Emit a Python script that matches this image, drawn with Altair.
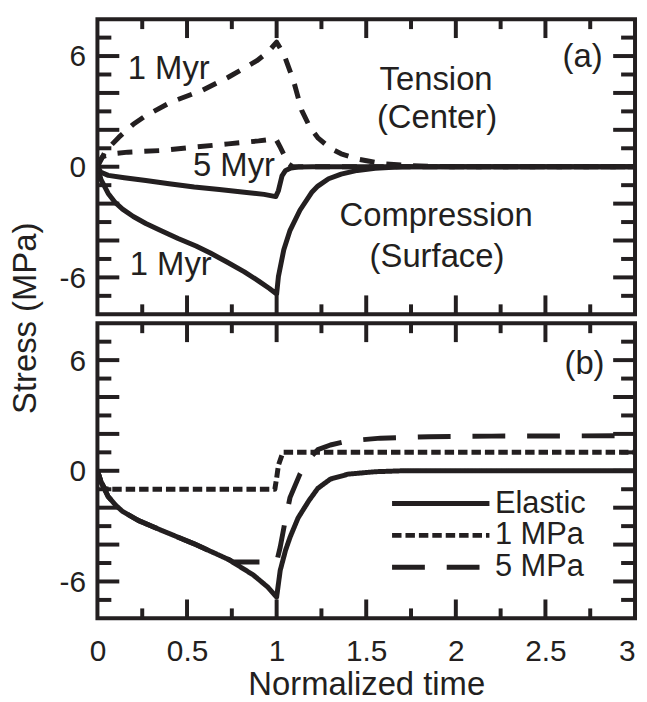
import altair as alt
import pandas as pd

INK = "#231f20"
FONT = "Liberation Sans"

X_DOMAIN = [0, 3]
Y_DOMAIN = [-8, 8]
W, H = 541, 297

# ---------------- Panel (a) ----------------
a_solid_1myr_x = [0, 0.02, 0.06, 0.1, 0.14, 0.2, 0.27, 0.35, 0.45, 0.55, 0.63, 0.72, 0.82, 0.9, 0.96, 1.0,
                  1.01, 1.04, 1.075, 1.13, 1.195, 1.23, 1.29, 1.36, 1.45, 1.55, 1.7, 2.0, 3.0]
a_solid_1myr_y = [0, -0.7, -1.45, -1.95, -2.3, -2.7, -3.08, -3.45, -3.89, -4.3, -4.68, -5.15, -5.7, -6.2, -6.6, -6.9,
                  -5.95, -4.5, -3.45, -2.36, -1.4, -1.05, -0.65, -0.4, -0.2, -0.08, 0, 0, 0]

a_solid_5myr_x = [0, 0.02, 0.06, 0.15, 0.27, 0.4, 0.54, 0.68, 0.82, 0.93, 0.995, 1.01, 1.03, 1.05, 1.08, 1.12, 1.2, 3.0]
a_solid_5myr_y = [0, -0.3, -0.47, -0.6, -0.75, -0.92, -1.1, -1.24, -1.38, -1.5, -1.62, -1.3, -0.5, -0.2, -0.07, -0.02, 0, 0]

a_dash_1myr_x = [0, 0.04, 0.08, 0.12, 0.2, 0.27, 0.41, 0.58, 0.73, 0.89, 0.95, 1.0,
                 1.04, 1.094, 1.14, 1.186, 1.232, 1.3, 1.36, 1.45, 1.51, 1.6, 1.75, 2.0, 3.0]
a_dash_1myr_y = [0, 0.75, 1.2, 1.6, 2.3, 2.77, 3.5, 4.12, 4.85, 5.75, 6.2, 6.75,
                 6.1, 4.67, 3.05, 2.14, 1.55, 1.0, 0.7, 0.42, 0.31, 0.16, 0.05, 0, 0]

a_dash_5myr_x = [0, 0.01, 0.03, 0.08, 0.17, 0.36, 0.54, 0.73, 0.9, 0.995, 1.02, 1.048, 1.066, 1.09, 3.0]
a_dash_5myr_y = [0, 0.3, 0.55, 0.7, 0.79, 0.88, 1.06, 1.24, 1.4, 1.52, 1.06, 0.52, 0.16, 0, 0]

a_labels = ["1 Myr", "5 Myr", "1 Myr", "Tension", "(Center)", "Compression", "(Surface)", "(a)"]
a_label_x = [0.398, 0.762, 0.409, 1.89, 1.895, 1.89, 1.895, 2.707]
a_label_y = [4.76, -0.49, -5.89, 4.16, 2.11, -3.24, -5.41, 5.39]

# ---------------- Panel (b) ----------------
b_series = ["Elastic", "1 MPa", "5 MPa"]

b_elastic_x = [0, 0.02, 0.06, 0.1, 0.14, 0.23, 0.36, 0.54, 0.73, 0.87, 0.95, 1.0,
               1.02, 1.05, 1.075, 1.12, 1.18, 1.23, 1.3, 1.4, 1.55, 1.7, 3.0]
b_elastic_y = [0, -0.6, -1.4, -1.85, -2.2, -2.7, -3.24, -3.96, -4.8, -5.65, -6.3, -6.85,
               -5.4, -4.3, -3.6, -2.55, -1.62, -0.95, -0.45, -0.18, -0.05, 0, 0]

b_1mpa_x = [0, 0.02, 0.04, 0.06, 0.99, 1.0, 1.01, 1.035, 3.0]
b_1mpa_y = [0, -0.6, -0.95, -1.0, -1.0, -0.4, 0.3, 1.0, 1.0]

b_5mpa_x = [0, 0.02, 0.06, 0.1, 0.14, 0.23, 0.36, 0.54, 0.73, 0.76, 1.0,
            1.02, 1.048, 1.075, 1.13, 1.18, 1.23, 1.3, 1.4, 1.58, 1.85, 2.2, 3.0]
b_5mpa_y = [0, -0.6, -1.4, -1.85, -2.2, -2.7, -3.24, -3.96, -4.8, -4.95, -4.95,
            -4.14, -2.7, -1.44, -0.18, 0.63, 1.15, 1.4, 1.62, 1.77, 1.85, 1.88, 1.9]

b_labels = ["(b)"]
b_label_x = [2.718]
b_label_y = [5.24]

# ---------------- Axes / ticks ----------------
y_tick_labels = [-6, 0, 6]
x_tick_labels = [0, 0.5, 1, 1.5, 2, 2.5, 3]
y_ticks_major = [-6, -4, -2, 0, 2, 4, 6]
y_ticks_minor = [-7, -5, -3, -1, 1, 3, 5, 7]
x_ticks_major = [0.5, 1.0, 1.5, 2.0, 2.5]
x_ticks_minor = [0.25, 0.75, 1.25, 1.75, 2.25, 2.75]


def series_df(name, xs, ys):
    return pd.DataFrame({"series": name, "x": xs, "y": ys, "i": list(range(len(xs)))})


xs_scale = alt.Scale(domain=X_DOMAIN, nice=False, zero=False)
ys_scale = alt.Scale(domain=Y_DOMAIN, nice=False, zero=False)

y_axis = alt.Axis(values=y_tick_labels, ticks=False, tickSize=0, domain=False, grid=False,
                  labelFontSize=30, labelFont=FONT, labelColor=INK, labelPadding=12,
                  labelBaseline="alphabetic", labelOffset=10, title=None,
                  labelExpr="'' + datum.value")

x_axis = alt.Axis(values=x_tick_labels, ticks=False, tickSize=0, domain=False, grid=False,
                  labelFontSize=30, labelFont=FONT, labelColor=INK, labelPadding=42,
                  labelBaseline="alphabetic", labelExpr="'' + datum.value",
                  labelAlign={"condition": {"test": "datum.value == 3", "value": "right"}, "value": "center"},
                  title="Normalized time", titleFontSize=33, titleFont=FONT, titleColor=INK,
                  titleFontWeight="normal", titleBaseline="alphabetic", titleY=77)


def tick_layer(vals, side, length, xaxis, yaxis):
    df = pd.DataFrame({"v": vals})
    base = alt.Chart(df).mark_rule(color=INK, strokeWidth=4)
    if side in ("left", "right"):
        yenc = alt.Y("v:Q", scale=ys_scale, axis=yaxis)
        if side == "left":
            return base.encode(y=yenc, x=alt.value(0), x2=alt.value(length))
        return base.encode(y=yenc, x=alt.value(W), x2=alt.value(W - length))
    xenc = alt.X("v:Q", scale=xs_scale, axis=xaxis)
    if side == "top":
        return base.encode(x=xenc, y=alt.value(0), y2=alt.value(length))
    return base.encode(x=xenc, y=alt.value(H), y2=alt.value(H - length))


def all_ticks(xaxis, yaxis):
    return [
        tick_layer(y_ticks_major, "left", 22, xaxis, yaxis), tick_layer(y_ticks_minor, "left", 14, xaxis, yaxis),
        tick_layer(y_ticks_major, "right", 22, xaxis, yaxis), tick_layer(y_ticks_minor, "right", 14, xaxis, yaxis),
        tick_layer(x_ticks_major, "top", 19, xaxis, yaxis), tick_layer(x_ticks_minor, "top", 10, xaxis, yaxis),
        tick_layer(x_ticks_major, "bottom", 19, xaxis, yaxis), tick_layer(x_ticks_minor, "bottom", 10, xaxis, yaxis),
    ]


def text_layer(labels, xs, ys, xaxis, yaxis, size=33):
    df = pd.DataFrame({"text": labels, "x": xs, "y": ys})
    return alt.Chart(df).mark_text(fontSize=size, font=FONT, color=INK, align="center",
                                   baseline="alphabetic").encode(
        x=alt.X("x:Q", scale=xs_scale, axis=xaxis),
        y=alt.Y("y:Q", scale=ys_scale, axis=yaxis),
        text="text:N")


# ----- top panel -----
a_solid = pd.concat([series_df("s1", a_solid_1myr_x, a_solid_1myr_y),
                     series_df("s5", a_solid_5myr_x, a_solid_5myr_y)])
a_dash = pd.concat([series_df("d1", a_dash_1myr_x, a_dash_1myr_y),
                    series_df("d5", a_dash_5myr_x, a_dash_5myr_y)])

solid_a = alt.Chart(a_solid).mark_line(color=INK, strokeWidth=5, strokeJoin="round", clip=True).encode(
    x=alt.X("x:Q", scale=xs_scale, axis=None),
    y=alt.Y("y:Q", scale=ys_scale, axis=y_axis),
    detail="series:N", order="i:Q")
dash_a = alt.Chart(a_dash).mark_line(color=INK, strokeWidth=5, strokeDash=[15, 12], strokeCap="butt",
                                     strokeJoin="round", clip=True).encode(
    x=alt.X("x:Q", scale=xs_scale, axis=None),
    y=alt.Y("y:Q", scale=ys_scale, axis=y_axis),
    detail="series:N", order="i:Q")

ytitle = alt.Chart(pd.DataFrame({"t": ["Stress (MPa)"]})).mark_text(
    angle=270, align="center", baseline="alphabetic", fontSize=33, font=FONT, color=INK).encode(
    x=alt.value(-62), y=alt.value(301), text="t:N")

top = alt.layer(solid_a, dash_a, *all_ticks(None, y_axis),
                text_layer(a_labels, a_label_x, a_label_y, None, y_axis), ytitle).properties(width=W, height=H)

# ----- bottom panel -----
b_df = pd.concat([series_df("Elastic", b_elastic_x, b_elastic_y),
                  series_df("1 MPa", b_1mpa_x, b_1mpa_y),
                  series_df("5 MPa", b_5mpa_x, b_5mpa_y)])

lines_b = alt.Chart(b_df).mark_line(color=INK, strokeWidth=5, strokeCap="butt", strokeJoin="round",
                                    clip=True).encode(
    x=alt.X("x:Q", scale=xs_scale, axis=x_axis),
    y=alt.Y("y:Q", scale=ys_scale, axis=y_axis),
    strokeDash=alt.StrokeDash("series:N",
                              scale=alt.Scale(domain=b_series, range=[[1, 0], [9.5, 4], [33, 22]]),
                              legend=alt.Legend(orient="none", legendX=330, legendY=166, title=None,
                                                symbolType="M-4.9,0H4.9", symbolSize=400,
                                                symbolStrokeWidth=5, symbolStrokeColor=INK,
                                                labelFontSize=31, labelFont=FONT, labelColor=INK,
                                                labelOffset=39, rowPadding=0, padding=0)),
    detail="series:N", order="i:Q")

bottom = alt.layer(lines_b, *all_ticks(x_axis, y_axis),
                   text_layer(b_labels, b_label_x, b_label_y, x_axis, y_axis)).properties(width=W, height=H)

chart = alt.vconcat(top, bottom, spacing=9, bounds="flush").resolve_scale(
    strokeDash="independent").properties(
    padding={"left": 0, "top": 5, "right": 0, "bottom": 5}
).configure(font=FONT).configure_view(stroke=INK, strokeWidth=4)

chart.save("out.html", embed_options={"renderer": "svg", "actions": False})
